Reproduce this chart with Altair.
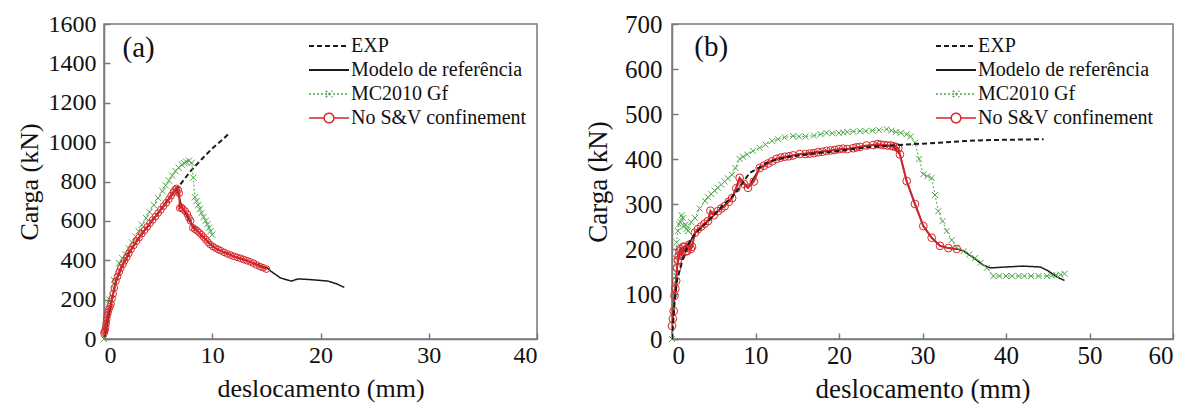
import altair as alt
import pandas as pd

# ---------------- series names / styles ----------------
NAMES = ["EXP", "Modelo de referência", "MC2010 Gf", "No S&V confinement"]
COLORS = ["#1a1a1a", "#1a1a1a", "#4fa84a", "#d7262b"]
DASHES = [[5, 3], [1, 0], [2, 2], [1, 0]]
WIDTHS = [2.0, 1.5, 1.0, 2.0]

# ---------------- panel (a) ----------------
EXP_A_X = [0, 0.3, 0.7, 1.1, 1.7, 2.3, 3.0, 3.8, 4.5, 5.3, 6.0, 7.0, 8.0, 9.0, 10.0, 11.0, 11.5]
EXP_A_Y = [0, 100, 190, 290, 375, 440, 495, 555, 605, 660, 715, 782, 853, 912, 968, 1015, 1041]

MOD_A_X = [0, 0.2, 0.65, 1.1, 1.75, 3.0, 4.5, 6.0, 6.7, 7.2, 8.0, 9.0, 10.3, 12.0, 13.8, 15.1,
           15.4, 16.3, 17.3, 17.9, 19.0, 20.7, 21.5, 22.2]
MOD_A_Y = [0, 40, 178, 294, 380, 497, 605, 710, 765, 670, 590, 525, 460, 420, 385, 360,
           345, 310, 294, 305, 302, 294, 280, 262]

MC_A_X = [0, 0.2, 0.5, 0.9, 1.4, 1.7, 2.0, 2.3, 2.6, 2.9, 3.2, 3.5, 3.9, 4.2, 4.6, 5.0, 5.4,
          5.7, 6.0, 6.3, 6.6, 6.9, 7.2, 7.4, 7.6, 7.85, 8.1, 8.25, 8.4, 8.55, 8.7, 8.85, 9.0,
          9.2, 9.4, 9.55, 9.7, 9.85, 10.0]
MC_A_Y = [0, 90, 200, 300, 385, 410, 430, 460, 490, 520, 548, 580, 614, 645, 680, 716, 751,
          780, 805, 830, 853, 870, 885, 893, 900, 905, 895, 820, 720, 700, 680, 660, 640,
          620, 600, 583, 565, 548, 530]

RED_A_X = [0, 0.05, 0.1, 0.15, 0.2, 0.25, 0.3, 0.38, 0.45, 0.55, 0.65, 0.75, 0.85, 0.95, 1.1,
           1.25, 1.4, 1.55, 1.75, 1.9, 2.1, 2.3, 2.5, 2.75, 3.0, 3.25, 3.5, 3.75, 4.0, 4.25,
           4.5, 4.75, 5.0, 5.25, 5.5, 5.75, 6.0, 6.2, 6.4, 6.55, 6.7, 6.85, 6.95, 7.0, 7.15,
           7.3, 7.5, 7.7, 7.85, 8.0, 8.2, 8.4, 8.6, 8.8, 9.0, 9.2, 9.4, 9.6, 9.8, 10.05,
           10.3, 10.55, 10.8, 11.1, 11.4, 11.7, 12.0, 12.3, 12.6, 12.9, 13.2, 13.5, 13.8,
           14.1, 14.4, 14.7, 15.0]
RED_A_Y = [30, 38, 45, 60, 80, 100, 120, 135, 150, 165, 178, 205, 230, 260, 294,
           318, 340, 360, 380, 397, 415, 435, 455, 476, 497, 516, 535, 552, 570, 588,
           605, 622, 640, 657, 675, 692, 710, 728, 745, 757, 765, 758, 740, 665, 668,
           660, 650, 634, 615, 600, 565, 558, 550, 540, 530, 518, 505, 492, 480, 470,
           462, 455, 448, 440, 432, 426, 420, 415, 410, 404, 398, 392, 385,
           376, 368, 362, 355]

# ---------------- panel (b) ----------------
EXP_B_X = [0, 0.3, 0.6, 1.0, 1.5, 2.2, 3.1, 4.5, 6.0, 7.5, 9.3, 11.7, 14, 17, 20, 23, 26,
           28.9, 32, 35, 38, 41, 44.5]
EXP_B_Y = [0, 80, 130, 158, 190, 220, 240, 265, 295, 322, 369, 395, 405, 412, 418, 425, 430,
           433, 436, 440, 442, 443, 444]

MOD_B_X = [0, 0.3, 0.6, 1.0, 2.0, 2.75, 4.3, 5.5, 7.2, 8.1, 9.1, 10.5, 12.5, 15.3, 18.5, 21.7,
           24.1, 26.5, 27.3, 28.1, 29.1, 30.1, 31.1, 32.1, 33.1, 34.1, 34.9, 36.3, 37.2,
           38.1, 40.0, 42.0, 44.1, 45.0, 46.1, 47.0]
MOD_B_Y = [29, 96, 158, 200, 210, 236, 262, 284, 313, 358, 336, 380, 400, 411, 418, 424,
           431, 428, 410, 351, 300, 251, 225, 207, 202, 200, 196, 178, 165,
           158, 160, 162, 160, 152, 138, 130]

MC_B_X = [0, 0.2, 0.4, 0.55, 0.7, 0.85, 1.0, 1.15, 1.3, 1.45, 1.6, 1.75, 1.9, 2.3, 2.75,
          3.3, 3.95, 4.3, 4.7, 5.1, 5.5, 5.9, 6.3, 6.7, 7.2, 7.6, 8.1, 8.5, 9.0, 9.7, 10.5,
          11.2, 12.0, 12.7, 13.5, 14.5, 15.2, 16.0, 17.0, 17.8, 18.5, 19.2, 20.0, 20.5,
          21.0, 21.7, 22.5, 23.2, 24.0, 24.8, 25.7, 26.3, 26.8, 27.4, 28.1, 28.6, 29.1,
          29.6, 30.1, 30.6, 31.1, 31.5, 31.9, 32.4, 32.9, 33.5, 34.1, 34.9, 35.6, 36.3,
          37.0, 37.7, 38.5, 39.2, 40.0, 40.7, 41.5, 42.2, 43.0, 43.9, 44.9, 45.5, 46.0,
          46.5, 47.0]
MC_B_Y = [0, 100, 180, 215, 240, 255, 260, 275, 269, 250, 255, 245, 240, 260, 269,
          290, 307, 315, 322, 330, 336, 343, 350, 357, 365, 380, 400, 405, 410, 418, 425,
          432, 440, 444, 448, 451, 450, 450, 452, 455, 458, 457, 458, 459,
          460, 461, 462, 462, 463, 464, 466, 463, 460, 458, 455, 450, 436,
          400, 366, 362, 358, 320, 284, 262, 240, 220, 203, 195, 188, 180,
          170, 158, 140, 140, 140, 140, 140, 140, 140, 140, 140, 141, 142,
          143, 145]

RED_B_X = [0, 0.1, 0.2, 0.3, 0.4, 0.5, 0.6, 0.7, 0.8, 0.9, 1.0, 1.1, 1.2, 1.35, 1.5, 1.65,
           1.8, 1.95, 2.1, 2.25, 2.4, 2.75, 3.1, 3.5, 3.9, 4.3, 4.6, 5.0, 5.5, 5.9, 6.3,
           6.8, 7.2, 7.7, 8.1, 8.6, 9.1, 9.8, 10.5, 11.0, 11.5, 12.0, 12.5, 13.0, 13.5,
           14.0, 14.5, 15.3, 16.0, 16.5, 17.0, 17.5, 18.0, 18.5, 19.0, 19.5, 20.0, 20.5,
           21.0, 21.7, 22.1, 22.5, 23.3, 24.1, 24.6, 25.0, 25.4, 25.8, 26.2, 26.5, 26.8,
           27.1, 27.3, 28.1, 29.1, 30.1, 31.1, 32.1, 33.1, 34.1]
RED_B_Y = [29, 45, 62, 96, 112, 129, 158, 175, 185, 195, 200, 185, 190, 205, 205, 195,
           195, 205, 210, 200, 205, 236, 244, 250, 256, 262, 285, 275, 284, 290, 295,
           305, 313, 335, 358, 345, 336, 350, 380, 385, 390, 395, 400, 403, 405,
           406, 408, 411, 411, 412, 413, 415, 416, 418, 419, 420, 422, 423,
           422, 424, 426, 427, 430, 431, 433, 432, 431, 430, 430, 428, 427,
           424, 410, 351, 300, 251, 225, 207, 202, 200]

SERIF = "Liberation Serif, Times New Roman, serif"
FRAME = "#7a7a7a"

CIRCLE = "circle"
XMARK = "M-1,-1L1,1M-1,1L1,-1"
LEGEND_PATHS = [
    "M-1,0H1",
    "M-1,0H1",
    "M-1,0H1M-0.16,-0.16L0.16,0.16M-0.16,0.16L0.16,-0.16",
    "M-1,0H-0.24M0.24,0H1M-0.24,0A0.24,0.24 0 1,1 0.24,0A0.24,0.24 0 1,1 -0.24,0",
]


def frame(xs, ys, name):
    return pd.DataFrame({"x": xs, "y": ys, "serie": name})


def build_panel(curves, xmax, ymax, ystep, tag, tag_xy, legend_xy, width, height,
                marker_size, label_size, title_size, y_title_pad, y_label_pad):
    xscale = alt.Scale(domain=[0, xmax], nice=False, zero=False)
    yscale = alt.Scale(domain=[0, ymax], nice=False, zero=False)
    xvals = list(range(0, xmax + 1, 10))
    yvals = list(range(0, ymax + 1, ystep))
    text_style = dict(
        labelFont=SERIF, labelFontSize=label_size, labelColor="#111",
        titleFont=SERIF, titleFontSize=title_size, titleFontWeight="normal", titleColor="#111",
    )

    layers = []
    for (xs, ys, idx, marker) in curves:
        df = frame(xs, ys, NAMES[idx])
        base = alt.Chart(df).encode(
            x=alt.X("x:Q", scale=xscale, axis=None),
            y=alt.Y("y:Q", scale=yscale, axis=None),
        )
        layers.append(base.mark_line(
            color=COLORS[idx], strokeDash=DASHES[idx], strokeWidth=WIDTHS[idx], clip=True
        ))
        if marker is not None:
            layers.append(base.mark_point(
                shape=marker, filled=False, color=COLORS[idx], size=marker_size[idx],
                strokeWidth=1.0, opacity=1
            ))

    # panel tag, carrying the main (outer) axes
    tag_df = pd.DataFrame({"x": [tag_xy[0]], "y": [tag_xy[1]], "t": [tag]})
    layers.append(
        alt.Chart(tag_df).mark_text(font=SERIF, fontSize=29, color="#111", align="center",
                                    baseline="middle")
        .encode(
            x=alt.X("x:Q", scale=xscale, axis=alt.Axis(
                values=xvals, format="d", title="deslocamento (mm)", ticks=False, grid=False,
                labelPadding=4, titlePadding=8, domainColor=FRAME, domainWidth=1.5,
                **text_style)),
            y=alt.Y("y:Q", scale=yscale, axis=alt.Axis(
                values=yvals, format="d", title="Carga (kN)", ticks=False, grid=False,
                labelPadding=y_label_pad, titlePadding=y_title_pad, domainColor=FRAME,
                domainWidth=1.5, **text_style)),
            text="t:N",
        )
    )

    # legend-only layer (empty data) that also draws the inward tick marks
    leg_df = pd.DataFrame({"x": [0.0] * 4, "y": [0.0] * 4, "serie": NAMES})
    legend = alt.Legend(
        orient="none", legendX=legend_xy[0], legendY=legend_xy[1], title=None,
        labelFont=SERIF, labelFontSize=20, labelColor="#111", symbolSize=1600,
        clipHeight=24, rowPadding=0, labelOffset=1, labelLimit=400, symbolOpacity=1,
    )
    layers.append(
        alt.Chart(leg_df).transform_filter("datum.x > 1e9").mark_point(filled=False, opacity=1)
        .encode(
            x=alt.X("x:Q", scale=xscale, axis=alt.Axis(
                orient="top", offset=-height, values=xvals, labels=False, domain=False,
                grid=False, title=None, tickSize=6, tickColor=FRAME, tickWidth=1.5)),
            y=alt.Y("y:Q", scale=yscale, axis=alt.Axis(
                orient="right", offset=-width, values=yvals, labels=False, domain=False,
                grid=False, title=None, tickSize=6, tickColor=FRAME, tickWidth=1.5)),
            color=alt.Color("serie:N", scale=alt.Scale(domain=NAMES, range=COLORS), legend=legend),
            shape=alt.Shape("serie:N", scale=alt.Scale(domain=NAMES, range=LEGEND_PATHS), legend=legend),
            strokeDash=alt.StrokeDash("serie:N", scale=alt.Scale(domain=NAMES, range=DASHES), legend=legend),
            strokeWidth=alt.StrokeWidth("serie:N", scale=alt.Scale(domain=NAMES, range=WIDTHS), legend=legend),
        )
    )

    return alt.layer(*layers).resolve_scale(x="independent", y="independent").properties(
        width=width, height=height
    )


panel_a = build_panel(
    [
        (EXP_A_X, EXP_A_Y, 0, None),
        (MOD_A_X, MOD_A_Y, 1, None),
        (MC_A_X, MC_A_Y, 2, XMARK),
        (RED_A_X, RED_A_Y, 3, CIRCLE),
    ],
    40, 1600, 200, "(a)", (3.2, 1480), (204, 10), 433, 315, {2: 40, 3: 45},
    24, 26, 6, 8,
)

panel_b = build_panel(
    [
        (MOD_B_X, MOD_B_Y, 1, None),
        (MC_B_X, MC_B_Y, 2, XMARK),
        (RED_B_X, RED_B_Y, 3, CIRCLE),
        (EXP_B_X, EXP_B_Y, 0, None),
    ],
    60, 700, 100, "(b)", (4.7, 650), (263, 10), 501, 315, {2: 36, 3: 60},
    25, 27, 12, 10,
)

chart = (
    alt.hconcat(panel_a, panel_b, spacing=44)
    .resolve_legend(color="independent", shape="independent",
                    strokeDash="independent", strokeWidth="independent")
    .resolve_scale(color="independent", shape="independent",
                   strokeDash="independent", strokeWidth="independent")
    .properties(padding={"left": 15, "top": 11, "right": 4, "bottom": 2}, background="white")
    .configure(font=SERIF)
    .configure_view(stroke=FRAME, strokeWidth=1.5)
    .configure_legend(labelFont=SERIF)
    .configure_text(font=SERIF)
)

chart.save("out.html", embed_options={"renderer": "svg", "actions": False})
